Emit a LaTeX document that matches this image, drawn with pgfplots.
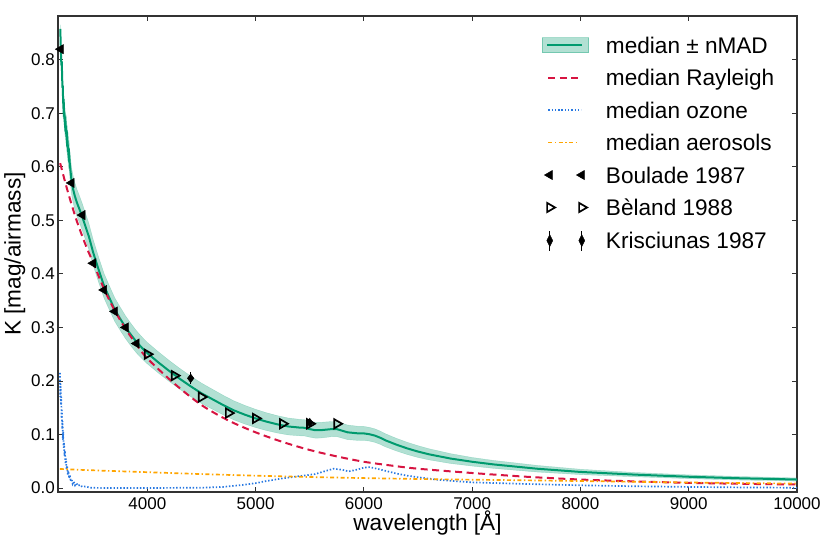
\documentclass[border=0pt]{standalone}
\usepackage{fontspec}
\setmainfont{Liberation Sans}
\usepackage{pgfplots}
\pgfplotsset{compat=1.18}
\usepackage{pgfplotstable}
\usepgfplotslibrary{fillbetween}

\definecolor{medgreen}{RGB}{0,154,110}
\definecolor{rayred}{RGB}{215,20,65}
\definecolor{ozblue}{RGB}{40,120,225}
\definecolor{aerorange}{RGB}{255,165,0}

\pgfplotsset{
  medimg/.style={legend image code/.code={
    \path[draw=none, fill=none] (0pt,-10pt) rectangle (46.6pt,10pt);
    \filldraw[fill=medgreen, fill opacity=0.3, draw=medgreen, draw opacity=0.35, line width=0.8pt] (0pt,-7.5pt) rectangle (46.6pt,7.5pt);
    \draw[##1] (5pt,0pt) -- (40pt,0pt);}},
  lineimgA/.style={legend image code/.code={
    \path[draw=none, fill=none] (0pt,-10pt) rectangle (46.6pt,10pt);
    \draw[##1, sharp plot] (6pt,0pt) -- (36pt,0pt);}},
  lineimgB/.style={legend image code/.code={
    \path[draw=none, fill=none] (0pt,-10pt) rectangle (46.6pt,10pt);
    \draw[##1] (6pt,0pt) -- (39pt,0pt);}},
  markimg/.style={legend image code/.code={
    \path[draw=none, fill=none] (0pt,-10pt) rectangle (46.6pt,10pt);
    \draw[##1] plot[only marks] coordinates {(7.5pt,0pt) (39.5pt,0pt)};}},
  errimg/.style={legend image code/.code={
    \path[draw=none, fill=none] (0pt,-10pt) rectangle (46.6pt,10pt);
    \draw[black, line width=1.3pt] (7.5pt,-10pt) -- (7.5pt,10pt) (39.5pt,-10pt) -- (39.5pt,10pt);
    \fill[black] (7.5pt,6pt) -- (4.5pt,0pt) -- (7.5pt,-6pt) -- (10.5pt,0pt) -- cycle;
    \fill[black] (39.5pt,6pt) -- (36.5pt,0pt) -- (39.5pt,-6pt) -- (42.5pt,0pt) -- cycle;}},
}

\pgfplotstableread{
lam med up lo
3196 0.858 0.866 0.850
3200 0.830 0.838 0.822
3204 0.800 0.809 0.791
3207 0.790 0.8005 0.7795
3210 0.797 0.809 0.785
3213 0.770 0.783 0.757
3216 0.748 0.762 0.734
3219 0.752 0.767 0.737
3222 0.725 0.741 0.709
3226 0.708 0.725 0.691
3230 0.712 0.730 0.694
3235 0.690 0.709 0.671
3240 0.678 0.6975 0.6585
3245 0.683 0.703 0.663
3250 0.665 0.6857 0.6443
3256 0.650 0.6715 0.6285
3261 0.655 0.677 0.633
3267 0.635 0.6575 0.6125
3273 0.620 0.643 0.597
3278 0.624 0.6475 0.6005
3285 0.603 0.627 0.579
3292 0.590 0.6145 0.5655
3298 0.578 0.603 0.553
3305 0.568 0.593 0.543
3315 0.558 0.583 0.533
3330 0.546 0.571 0.521
3350 0.533 0.558 0.508
3375 0.520 0.545 0.495
3400 0.506 0.531 0.481
3430 0.488 0.5127 0.4633
3460 0.470 0.4944 0.4456
3500 0.440 0.464 0.416
3550 0.408 0.4315 0.3845
3600 0.378 0.401 0.355
3650 0.355 0.3775 0.3325
3700 0.333 0.355 0.311
3750 0.316 0.3377 0.2943
3800 0.300 0.3213 0.2787
3850 0.286 0.307 0.265
3900 0.273 0.2937 0.2523
3950 0.262 0.2823 0.2417
4000 0.252 0.272 0.232
4100 0.235 0.2548 0.2152
4200 0.219 0.2386 0.1994
4300 0.204 0.2234 0.1846
4400 0.190 0.2092 0.1708
4500 0.177 0.196 0.158
4600 0.166 0.1846 0.1474
4700 0.155 0.1732 0.1368
4800 0.145 0.1628 0.1272
4900 0.137 0.1544 0.1196
5000 0.130 0.147 0.113
5100 0.124 0.1406 0.1074
5200 0.119 0.1352 0.1028
5300 0.115 0.1308 0.0992
5400 0.113 0.1284 0.0976
5450 0.1125 0.1277 0.0973
5500 0.110 0.125 0.095
5550 0.108 0.1228 0.0932
5600 0.108 0.1226 0.0934
5650 0.109 0.1234 0.0946
5700 0.110 0.1242 0.0958
5750 0.110 0.124 0.096
5800 0.107 0.1208 0.0932
5850 0.104 0.1176 0.0904
5900 0.103 0.1164 0.0896
5950 0.102 0.1152 0.0888
6000 0.102 0.115 0.089
6050 0.1005 0.1133 0.0877
6100 0.098 0.1106 0.0854
6150 0.094 0.1064 0.0816
6200 0.089 0.1012 0.0768
6250 0.085 0.097 0.073
6300 0.081 0.0928 0.0692
6400 0.074 0.0854 0.0626
6500 0.068 0.079 0.057
6600 0.063 0.0734 0.0526
6700 0.059 0.0688 0.0492
6800 0.055 0.0642 0.0458
6900 0.052 0.0606 0.0434
7000 0.049 0.057 0.041
7200 0.044 0.0514 0.0366
7400 0.040 0.0468 0.0332
7600 0.036 0.0422 0.0298
7800 0.033 0.0386 0.0274
8000 0.030 0.035 0.025
8250 0.0275 0.032 0.023
8500 0.025 0.029 0.021
8750 0.023 0.02675 0.01925
9000 0.021 0.0245 0.0175
9250 0.0195 0.0229 0.0161
9500 0.018 0.0213 0.0147
9750 0.017 0.0201 0.0139
10000 0.0158 0.0188 0.0128
}\median

\pgfplotstableread{
lam k
3195 0.607
3250 0.565
3300 0.530
3350 0.498
3400 0.470
3450 0.444
3500 0.421
3600 0.372
3700 0.331
3800 0.297
3900 0.268
4000 0.242
4250 0.195
4500 0.155
4750 0.126
5000 0.104
5250 0.086
5500 0.071
5750 0.059
6000 0.049
6250 0.042
6500 0.036
7000 0.028
7500 0.021
8000 0.0158
8500 0.0123
9000 0.0096
9500 0.0078
10000 0.0065
}\rayleigh

\pgfplotstableread{
lam k
3193 0.215
3196 0.170
3199 0.195
3202 0.155
3205 0.170
3208 0.130
3211 0.145
3214 0.110
3217 0.125
3220 0.090
3223 0.105
3227 0.075
3231 0.085
3235 0.060
3239 0.070
3244 0.045
3249 0.055
3254 0.035
3259 0.042
3265 0.025
3271 0.032
3278 0.018
3285 0.024
3293 0.012
3301 0.017
3310 0.008
3320 0.012
3332 0.005
3345 0.009
3360 0.004
3380 0.006
3400 0.002
3430 0.003
3470 0.0005
3600 0.0
4000 0.0
4500 0.0005
4700 0.002
4850 0.005
5000 0.009
5100 0.013
5250 0.018
5400 0.022
5550 0.026
5650 0.032
5720 0.036
5800 0.034
5860 0.031
5930 0.034
6000 0.038
6050 0.039
6120 0.036
6200 0.032
6300 0.027
6400 0.023
6500 0.020
6700 0.015
7000 0.0105
7500 0.0075
8000 0.005
8500 0.0032
9000 0.002
9500 0.001
10000 0.0005
}\ozone

\pgfplotstableread{
lam k
3193 0.0355
3500 0.033
4000 0.0295
4500 0.026
5000 0.023
5500 0.0205
6000 0.0185
6500 0.0168
7000 0.0155
7500 0.0143
8000 0.013
8500 0.0116
9000 0.0103
9500 0.0092
10000 0.0082
}\aerosol

\pgfplotstableread{
lam k
3200 0.82
3300 0.57
3400 0.51
3500 0.42
3600 0.37
3700 0.33
3800 0.30
3900 0.27
}\boulade

\pgfplotstableread{
lam k
4000 0.25
4250 0.21
4500 0.17
4750 0.14
5000 0.13
5250 0.12
5500 0.12
5750 0.12
}\beland

\pgfplotstableread{
lam k e
4400 0.205 0.011
5500 0.122 0.004
}\krisciunas

\begin{document}
\begin{tikzpicture}
\begin{axis}[
  scale only axis, width=739pt, height=476pt,
  xmin=3175, xmax=10000, ymin=-0.0075, ymax=0.882,
  xtick={4000,5000,6000,7000,8000,9000,10000},
  ytick={0,0.1,0.2,0.3,0.4,0.5,0.6,0.7,0.8},
  tick pos=both, tick align=inside, major tick length=5pt,
  tick style={black!80, line width=0.9pt},
  axis line style={black!80, line width=1.1pt},
  scaled ticks=false,
  /pgf/number format/assume math mode=true,
  xticklabel style={font=\fontsize{17}{19}\selectfont, inner sep=0pt, yshift=-5pt, /pgf/number format/1000 sep={}},
  yticklabel style={font=\fontsize{17}{19}\selectfont, inner sep=0pt, xshift=-3pt, /pgf/number format/.cd, fixed, fixed zerofill, precision=1},
  xlabel={wavelength [Å]}, ylabel={K [mag/airmass]},
  label style={font=\fontsize{22.6}{26}\selectfont},
  xlabel style={at={(axis description cs:0.5,-0.0815)}, anchor=base, inner sep=0pt},
  ylabel style={at={(axis description cs:-0.0507,0.5)}, anchor=base, inner sep=0pt},
  legend cell align=left,
  legend style={at={(0.6545,0.960)}, anchor=north west, draw=none, fill=none,
    inner sep=0pt, font=\fontsize{22.6}{26}\selectfont,
    row sep=12.45pt, column sep=16.7pt,
    nodes={inner sep=0pt, text height=16.2pt, text depth=0pt}},
]
\addplot[name path=U, draw=none, forget plot] table[x=lam, y=up] {\median};
\addplot[name path=L, draw=none, forget plot] table[x=lam, y=lo] {\median};
\addplot[fill=medgreen, fill opacity=0.3, draw=medgreen, draw opacity=0.25, forget plot] fill between[of=U and L];

\addplot[medgreen, line width=2pt, medimg] table[x=lam, y=med] {\median};
\addlegendentry{median ± nMAD}

\addplot[rayred, line width=2pt, dash pattern=on 7pt off 4.5pt, smooth, lineimgA] table[x=lam, y=k] {\rayleigh};
\addlegendentry{median Rayleigh}

\addplot[ozblue, line width=1.7pt, dash pattern=on 1.4pt off 1.9pt, lineimgB] table[x=lam, y=k] {\ozone};
\addlegendentry{median ozone}

\addplot[aerorange, line width=1.7pt, dash pattern=on 4pt off 2.5pt on 1.4pt off 2.5pt, smooth, lineimgA] table[x=lam, y=k] {\aerosol};
\addlegendentry{median aerosols}

\addplot[only marks, mark=triangle*, mark size=5.3pt, black, mark options={rotate=90, fill=black, line width=0.5pt}, markimg] table[x=lam, y=k] {\boulade};
\addlegendentry{Boulade 1987}

\addplot[only marks, mark=triangle, mark size=5.3pt, black, mark options={rotate=-90, fill=white, line width=1.7pt}, markimg] table[x=lam, y=k] {\beland};
\addlegendentry{Bèland 1988}

\addplot[only marks, mark=diamond*, mark size=4.3pt, black, mark options={fill=black, line width=0.5pt}, errimg,
  error bars/.cd, y dir=both, y explicit, error mark=none,
  error bar style={line width=1.3pt, black}]
  table[x=lam, y=k, y error=e] {\krisciunas};
\addlegendentry{Krisciunas 1987}
\end{axis}
\path (-58pt,-62pt) rectangle (772pt,492pt);
\end{tikzpicture}
\end{document}
